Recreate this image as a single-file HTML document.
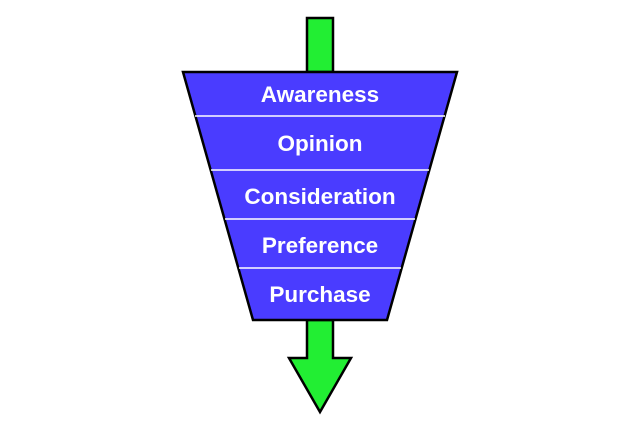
<!DOCTYPE html>
<html><head><style>body{margin:0;background:#fff}svg{display:block}</style></head><body>
<svg width="634" height="427" viewBox="0 0 634 427" xmlns="http://www.w3.org/2000/svg">
<polygon points="307,320 333,320 333,358 351,358 320,412 289,358 307,358" fill="#22ee33" stroke="#000" stroke-width="2.5" stroke-linejoin="miter"/>
<rect x="307" y="18" width="26" height="54" fill="#22ee33" stroke="#000" stroke-width="2.5"/>
<polygon points="183,72 457,72 387,320 253,320" fill="#4a3cff" stroke="#000" stroke-width="2.5"/>
<g stroke="#fff" stroke-width="1.5">
<line x1="195" y1="116" x2="445" y2="116"/>
<line x1="211" y1="170" x2="429" y2="170"/>
<line x1="225" y1="219" x2="415" y2="219"/>
<line x1="239" y1="268" x2="401" y2="268"/>
</g>
<g fill="#fff" font-family="Liberation Sans, sans-serif" font-weight="bold" font-size="22.5" text-anchor="middle">
<text x="320" y="102">Awareness</text>
<text x="320" y="151">Opinion</text>
<text x="320" y="204">Consideration</text>
<text x="320" y="253">Preference</text>
<text x="320" y="302">Purchase</text>
</g>
</svg>
</body></html>
